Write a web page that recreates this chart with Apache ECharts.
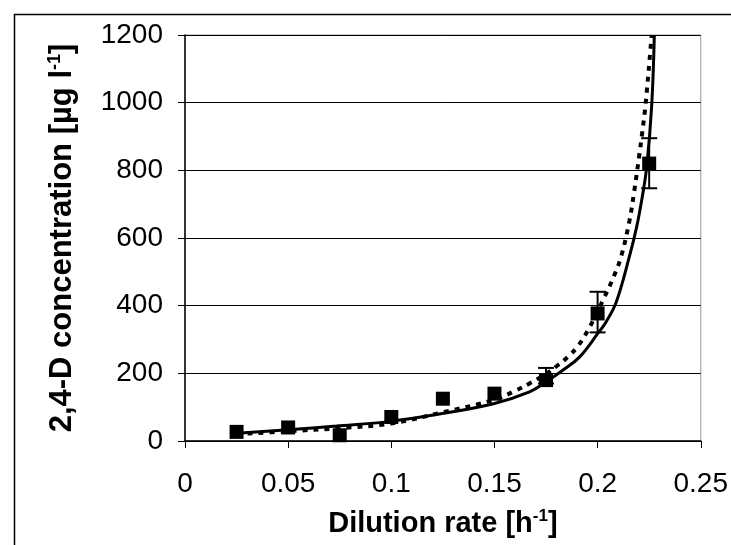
<!DOCTYPE html>
<html>
<head>
<meta charset="utf-8">
<script src="https://cdn.jsdelivr.net/npm/echarts@6/dist/echarts.min.js"></script>
<style>html,body{margin:0;padding:0;background:#fff;}#c{width:731px;height:545px;}</style>
</head>
<body>
<div id="c"></div>
<script>
// Measured data (squares)
var measX = [0.025, 0.05, 0.075, 0.1, 0.125, 0.15, 0.175, 0.2, 0.225];
var measY = [27, 40, 17, 71, 125, 140, 180, 377, 820];
// Error bars
var errX = [0.175, 0.2, 0.225];
var errLow = [170, 321, 747];
var errHigh = [216, 441, 895];
// Model curve (solid)
var solidX = [0.0234, 0.05, 0.0734, 0.0996, 0.1247, 0.15, 0.167, 0.1751, 0.1831, 0.1912, 0.2001, 0.2041, 0.209, 0.2154, 0.2189, 0.2216, 0.2238, 0.2262, 0.2275];
var solidY = [22, 33, 44, 58, 81, 111, 145, 175, 209, 248, 318, 352, 410, 545, 632, 720, 810, 990, 1200];
// Model curve (dotted)
var dotX = [0.025, 0.05, 0.075, 0.1, 0.125, 0.15, 0.1606, 0.167, 0.1751, 0.1807, 0.1855, 0.1904, 0.196, 0.2033, 0.2081, 0.2114, 0.2154, 0.2178, 0.2202, 0.2215, 0.223, 0.2238, 0.2251, 0.2262];
var dotY = [20, 29, 38, 52, 85, 122, 150, 170, 199, 224, 248, 280, 335, 425, 490, 545, 650, 740, 845, 905, 980, 1030, 1120, 1200];
// Axis ticks
var xTicks = {min: 0, max: 0.25, interval: 0.05};
var yTicks = {min: 0, max: 1200, interval: 200};

function zip(a, b) { return a.map(function (v, i) { return [v, b[i]]; }); }

var chart = echarts.init(document.getElementById('c'), null, {renderer: 'canvas'});
var FONT = '"Liberation Sans", Arial, sans-serif';
chart.setOption({
  animation: false,
  backgroundColor: '#fff',
  graphic: [{
    type: 'rect', left: 12, top: 12, silent: true,
    shape: {x: 0, y: 0, width: 760, height: 560},
    style: {fill: 'none', stroke: '#000', lineWidth: 1.5}
  }],
  grid: {left: 185, right: 29, top: 35, bottom: 104, show: true, borderColor: '#999', borderWidth: 1, backgroundColor: 'transparent'},
  xAxis: {
    type: 'value', min: xTicks.min, max: xTicks.max, interval: xTicks.interval,
    name: '{t|Dilution rate [h}{s|-1}{t|]}', nameLocation: 'middle', nameGap: 67,
    nameTextStyle: {rich: {
      t: {fontFamily: FONT, fontSize: 29, fontWeight: 'bold', color: '#000'},
      s: {fontFamily: FONT, fontSize: 17, fontWeight: 'bold', color: '#000', padding: [0, 0, 14, 0]}
    }},
    axisLine: {show: true, onZero: false, lineStyle: {color: '#000', width: 1.5}},
    axisTick: {show: true, length: 7, lineStyle: {color: '#000', width: 1}},
    axisLabel: {fontFamily: FONT, fontSize: 28, color: '#000', margin: 29},
    splitLine: {show: false}
  },
  yAxis: {
    type: 'value', min: yTicks.min, max: yTicks.max, interval: yTicks.interval,
    name: '{t|2,4-D concentration [µg l}{s|-1}{t|]}', nameLocation: 'middle', nameGap: 107, nameRotate: 90,
    nameTextStyle: {rich: {
      t: {fontFamily: FONT, fontSize: 31, fontWeight: 'bold', color: '#000'},
      s: {fontFamily: FONT, fontSize: 18, fontWeight: 'bold', color: '#000', padding: [0, 0, 14, 0]}
    }},
    axisLine: {show: true, lineStyle: {color: '#000', width: 1.5}},
    axisTick: {show: true, length: 7, lineStyle: {color: '#000', width: 1}},
    axisLabel: {fontFamily: FONT, fontSize: 28, color: '#000', margin: 22, formatter: function (v) { return String(v); }},
    splitLine: {show: true, lineStyle: {color: '#000', width: 1}}
  },
  series: [
    {
      type: 'line', data: zip(solidX, solidY), showSymbol: false, smooth: 0.4,
      lineStyle: {color: '#000', width: 3}, z: 3
    },
    {
      type: 'line', data: zip(dotX, dotY), showSymbol: false, smooth: 0.4,
      lineStyle: {color: '#000', width: 4, type: [5, 6]}, z: 3
    },
    {
      type: 'custom', z: 4,
      data: errX.map(function (x, i) { return [x, errLow[i], errHigh[i]]; }),
      renderItem: function (params, api) {
        var x = api.value(0);
        var p1 = api.coord([x, api.value(2)]);
        var p2 = api.coord([x, api.value(1)]);
        var h = 8;
        var st = {stroke: '#000', lineWidth: 2};
        return {type: 'group', children: [
          {type: 'line', shape: {x1: p1[0], y1: p1[1], x2: p2[0], y2: p2[1]}, style: st},
          {type: 'line', shape: {x1: p1[0] - h, y1: p1[1], x2: p1[0] + h, y2: p1[1]}, style: st},
          {type: 'line', shape: {x1: p2[0] - h, y1: p2[1], x2: p2[0] + h, y2: p2[1]}, style: st}
        ]};
      }
    },
    {
      type: 'scatter', data: zip(measX, measY), symbol: 'rect', symbolSize: 14,
      itemStyle: {color: '#000', opacity: 1}, z: 5
    }
  ]
});
</script>
</body>
</html>
